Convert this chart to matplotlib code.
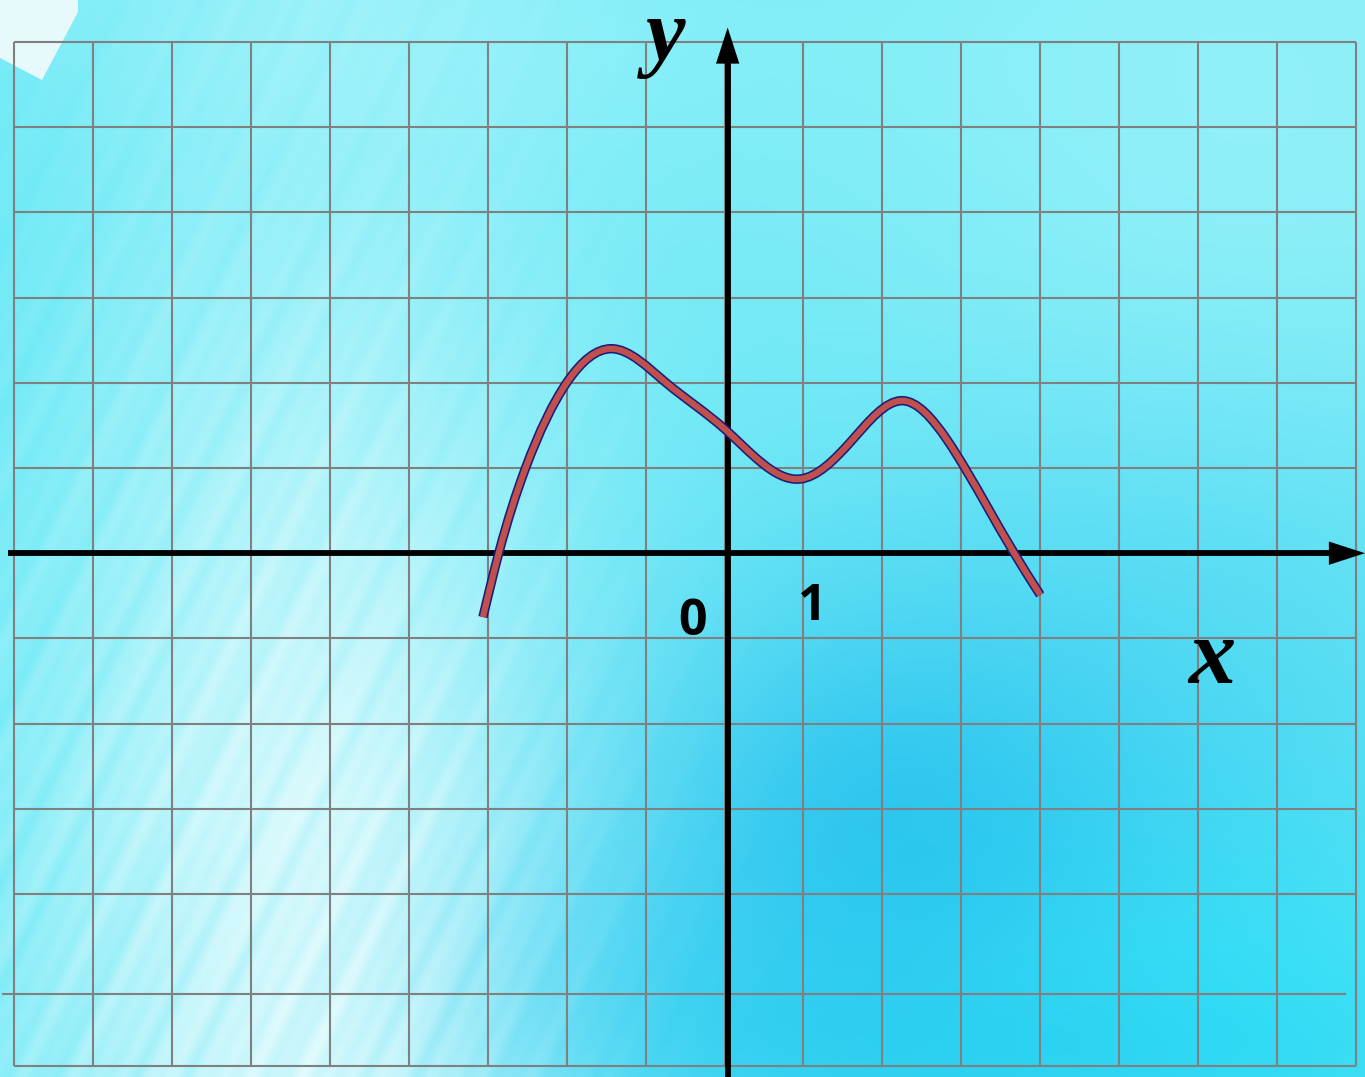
import numpy as np
import matplotlib
matplotlib.use("Agg")
import matplotlib.pyplot as plt
from matplotlib.path import Path
from matplotlib.patches import PathPatch, Polygon
import matplotlib.patheffects as pe

plt.rcParams["mathtext.fontset"] = "custom"
plt.rcParams["mathtext.it"] = "Liberation Serif:style=italic:weight=bold"
plt.rcParams["mathtext.rm"] = "Liberation Serif:weight=bold"

# ---- function graph (x, f(x)) ----
curve_x = [-3.06, -2.86, -2.52, -2.00, -1.43, -0.74, 0.00, 0.95, 1.61, 2.25,
           2.82, 3.32, 3.67, 4.00]
curve_y = [-0.75, 0.00, 1.00, 2.00, 2.40, 2.00, 1.46, 0.87, 1.32, 1.79,
           1.33, 0.56, 0.00, -0.49]

tick_labels = ["0", "1"]
axis_labels = ["x", "y"]

# ---- canvas geometry (1 grid cell = 1 unit) ----
W, H = 1365, 1077
UX, UY = 78.94, 85.2          # pixels per unit
OX, OY = 724.5, 553.2         # pixel position of the origin
xlim = (-OX / UX, (W - OX) / UX)
ylim = (-(H - OY) / UY, OY / UY)

fig = plt.figure(figsize=(W / 100, H / 100), dpi=100)
ax = fig.add_axes([0, 0, 1, 1])
ax.set_xlim(*xlim)
ax.set_ylim(*ylim)
ax.axis("off")


def to_data(pxl, pyl):
    return ((pxl - OX) / UX, (OY - pyl) / UY)


# ---- soft cyan background with light rays ----
s = 3
py, px = np.mgrid[0:H:s, 0:W:s].astype(float)
img = np.zeros(px.shape + (3,))
img[:] = np.array([108, 233, 246]) / 255.0


def blend(w, color):
    global img
    w = np.clip(w, 0, 1)[..., None]
    img = img * (1 - w) + (np.array(color) / 255.0) * w


def blob(cx, cy, sx, sy, color, k):
    w = k * np.exp(-0.5 * (((px - cx) / sx) ** 2 + ((py - cy) / sy) ** 2))
    blend(w, color)


blob(1250, 120, 320, 300, (170, 245, 250), 0.6)
blob(500, 40, 380, 110, (150, 243, 250), 0.45)
blob(930, 830, 230, 170, (28, 185, 236), 0.85)
blob(660, 990, 280, 110, (35, 198, 240), 0.6)
blob(1200, 660, 260, 200, (70, 212, 242), 0.5)
blob(1260, 1010, 220, 140, (38, 226, 248), 0.6)
blob(1000, 1060, 300, 60, (25, 202, 238), 0.45)
blob(20, 450, 60, 350, (95, 232, 246), 0.5)

# diagonal band of light rising from the lower left
centre = 300 + 0.04 * (H - py)
band = np.exp(-0.5 * ((px - centre) / 175) ** 2)
vert = 0.30 + 0.62 * np.clip((py - 150) / 650, 0, 1)
theta = np.deg2rad(64)
n = px * np.sin(theta) + py * np.cos(theta)
streak = (0.5 + 0.5 * np.sin(2 * np.pi * n / 23.0)) * 0.35 \
    + (0.5 + 0.5 * np.sin(2 * np.pi * n / 41.0 + 1.3)) * 0.35 \
    + (0.5 + 0.5 * np.sin(2 * np.pi * n / 67.0 + 0.4)) * 0.30
blend(band * vert * (0.72 + 0.28 * streak), (236, 253, 254))
left = np.exp(-0.5 * ((px - 150) / 200) ** 2) * np.clip(py / 900, 0.2, 1)
blend(left * 0.35 * streak, (230, 252, 253))

ax.imshow(img, extent=(xlim[0], xlim[1], ylim[0], ylim[1]), origin="upper",
          aspect="auto", interpolation="bilinear", zorder=0)

# white tab in the top-left corner
corner = Polygon([to_data(*p) for p in [(0, 0), (78, 0), (78, 12), (42, 80), (0, 58)]],
                 closed=True, facecolor="#f4fbfb", edgecolor="none", alpha=0.9, zorder=1)
ax.add_patch(corner)

# ---- square grid ----
grid_kw = dict(color="#808080", lw=1.5, zorder=2)
x_lines = np.arange(-9, 9)
y_lines = [6, 5, 4, 3, 2, 1, 0, -1, -2, -3, -4, -6.02]
ax.vlines(x_lines, -6.02, 6, **grid_kw)
ax.hlines(y_lines, -9, 8, **grid_kw)
ax.hlines(-5.17, -9.15, 7.87, **grid_kw)

# ---- coordinate axes with arrows ----
axis_x0 = 0.04
ax.plot([xlim[0] + 0.1, xlim[1] - 0.3], [0, 0], color="black", lw=4.2,
        solid_capstyle="butt", zorder=4)
ax.plot([axis_x0, axis_x0], [ylim[0], 5.9], color="black", lw=4.2,
        solid_capstyle="butt", zorder=4)
arrow_kw = dict(arrowstyle="-|>,head_length=1.3,head_width=0.42",
                color="black", lw=0, mutation_scale=20, shrinkA=0, shrinkB=0)
ax.annotate("", xy=(xlim[1], 0), xytext=(xlim[1] - 0.6, 0),
            arrowprops=arrow_kw, zorder=5)
ax.annotate("", xy=(axis_x0, 6.17), xytext=(axis_x0, 5.6),
            arrowprops=arrow_kw, zorder=5)

# ---- the graph: natural cubic spline through the samples, as Bezier segments ----
xs = np.asarray(curve_x, float)
ys = np.asarray(curve_y, float)
n_pts = len(xs)
h = np.diff(xs)
A = np.zeros((n_pts, n_pts))
rhs = np.zeros(n_pts)
A[0, 0] = A[-1, -1] = 1.0
for i in range(1, n_pts - 1):
    A[i, i - 1] = h[i - 1]
    A[i, i] = 2 * (h[i - 1] + h[i])
    A[i, i + 1] = h[i]
    rhs[i] = 6 * ((ys[i + 1] - ys[i]) / h[i] - (ys[i] - ys[i - 1]) / h[i - 1])
M = np.linalg.solve(A, rhs)

verts = [(xs[0], ys[0])]
codes = [Path.MOVETO]
for i in range(n_pts - 1):
    hi = h[i]
    sec = (ys[i + 1] - ys[i]) / hi
    d0 = sec - hi * (2 * M[i] + M[i + 1]) / 6
    d1 = sec + hi * (M[i] + 2 * M[i + 1]) / 6
    verts += [(xs[i] + hi / 3, ys[i] + d0 * hi / 3),
              (xs[i + 1] - hi / 3, ys[i + 1] - d1 * hi / 3),
              (xs[i + 1], ys[i + 1])]
    codes += [Path.CURVE4] * 3

curve = PathPatch(Path(verts, codes), facecolor="none", edgecolor="#c0504d",
                  lw=4.5, capstyle="butt", joinstyle="round", zorder=6)
curve.set_path_effects([pe.Stroke(linewidth=6.8, foreground="#1c1c78"), pe.Normal()])
ax.add_patch(curve)

# ---- labels ----
num_kw = dict(family=["Open Sans", "DejaVu Sans"], fontweight="bold", fontsize=36,
              color="black", ha="center", va="baseline", zorder=7)
ax.text(*to_data(692, 635), tick_labels[0], **num_kw)
ax.text(*to_data(812, 620), tick_labels[1], **num_kw)

ax.text(*to_data(1211, 683), "$%s$" % axis_labels[0], fontsize=68, color="black",
        ha="center", va="baseline", zorder=7)
ax.text(*to_data(662, 60), "$%s$" % axis_labels[1], fontsize=64, color="black",
        ha="center", va="baseline", zorder=7)

fig.savefig("out.png", dpi=100)
